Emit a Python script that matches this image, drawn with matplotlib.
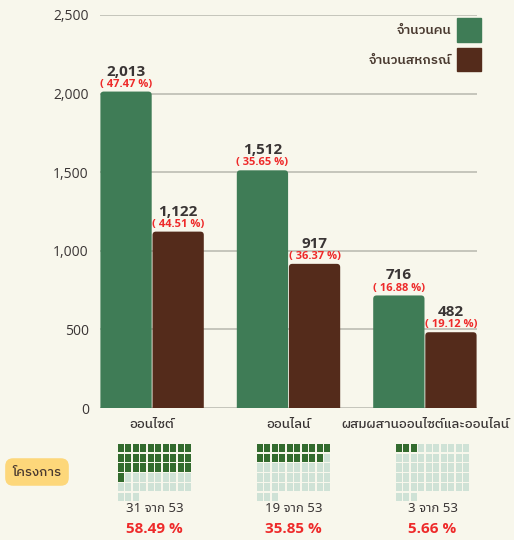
import matplotlib
matplotlib.use("Agg")
import matplotlib.pyplot as plt
from matplotlib import font_manager
from matplotlib.patches import FancyBboxPatch, Patch
import numpy as np

plt.rcParams['font.family'] = ['Noto Sans Thai', 'Noto Sans', 'DejaVu Sans']

# numbers need a real bold face; take the first humanist sans that has one
bold_fams = {f.name for f in font_manager.fontManager.ttflist
             if isinstance(f.weight, int) and f.weight >= 600}
num_font = [f for f in ['Open Sans', 'Noto Sans', 'Lato', 'Roboto'] if f in bold_fams][:1] + ['DejaVu Sans']
thai_bold = ['IBM Plex Sans Thai', 'Noto Sans Thai', 'Noto Sans']

# data
categories = ["ออนไซต์", "ออนไลน์", "ผสมผสานออนไซต์และออนไลน์"]
people = [2013, 1512, 716]
people_pct = ["( 47.47 %)", "( 35.65 %)", "( 16.88 %)"]
coops = [1122, 917, 482]
coops_pct = ["( 44.51 %)", "( 36.37 %)", "( 19.12 %)"]
series_names = ["จำนวนคน", "จำนวนสหกรณ์"]

projects = [31, 19, 3]
projects_total = 53
projects_pct = ["58.49 %", "35.85 %", "5.66 %"]
projects_label = "โครงการ"

bg = "#F8F7EC"
green = "#3F7C56"
brown = "#542B1B"
red = "#EE2A2A"
dark = "#3A3535"
waffle_on = "#336B2E"
waffle_off = "#CFE2D6"

fig = plt.figure(figsize=(5.14, 5.4), dpi=100, facecolor=bg)
ax = fig.add_axes([100/514, 1-408/540, 377/514, 393/540], facecolor=bg)

x = np.arange(len(categories))
w = 0.382
b1 = ax.bar(x - w/2, people, w, color=green, zorder=3)
b2 = ax.bar(x + w/2, coops, w, color=brown, zorder=3)

ymax = 2500
# one x unit is 377/(2+2w) px, one y unit is 393/ymax px
aspect = (377 / (2 + 2*w)) / (393 / ymax)
rs = 0.025

for bars, vals, pcts, col in [(b1, people, people_pct, green), (b2, coops, coops_pct, brown)]:
    for r, v, p in zip(bars, vals, pcts):
        # swap the square bar for one with rounded top corners
        bx, bw = r.get_x(), r.get_width()
        r.remove()
        ax.add_patch(FancyBboxPatch((bx + 0.003, -40), bw - 0.006, v + 40,
                                    boxstyle=f"round,pad=0,rounding_size={rs}",
                                    mutation_aspect=aspect, fc=col, ec="none",
                                    zorder=3))
        cx = bx + bw/2
        ax.annotate(f"{v:,}", (cx, v), xytext=(0, 11.5), textcoords="offset points",
                    ha="center", va="baseline", color=dark, family=num_font,
                    fontsize=11, fontweight="bold", zorder=4)
        ax.annotate(p, (cx, v), xytext=(0, 3.5), textcoords="offset points",
                    ha="center", va="baseline", color=red, family=num_font,
                    fontsize=8, fontweight="bold", zorder=4)

ax.set_xlim(-w, 2 + w)
ax.set_ylim(0, ymax)
yt = [0, 500, 1000, 1500, 2000, 2500]
ax.set_yticks(yt)
ax.set_yticklabels([f"{t:,}" for t in yt], color=dark, fontsize=10, family=num_font)
ax.set_xticks(x)
ax.set_xticklabels(categories, color=dark, fontsize=9.5, fontweight="medium",
                   family=thai_bold)
ax.tick_params(axis="y", length=0, pad=8)
ax.tick_params(axis="x", length=0, pad=7)
ax.grid(axis="y", color="#B8B8AE", linewidth=1.1, zorder=0)
for s in ax.spines.values():
    s.set_visible(False)

handles = [Patch(color=green, label=series_names[0]),
           Patch(color=brown, label=series_names[1])]
ax.legend(handles=handles, loc="upper right", bbox_to_anchor=(1.024, 1.006),
          borderaxespad=0, frameon=False, markerfirst=False,
          handlelength=1.8, handleheight=2.4, labelspacing=0.45, handletextpad=0.4,
          prop={"family": thai_bold, "weight": "semibold", "size": 9.5},
          labelcolor="#4A3A30")

# waffles
lefts = [117, 256, 395]
for i, n in enumerate(projects):
    wax = fig.add_axes([lefts[i]/514, 1-502/540, 75/514, 59/540])
    wax.set_axis_off()
    wax.set_xlim(0, 10)
    wax.set_ylim(6, 0)
    idx = np.arange(projects_total)
    cols = idx % 10
    rows = idx // 10
    colors = [waffle_on if k < n else waffle_off for k in idx]
    wax.bar(cols + 0.5, 0.84, 0.82, bottom=rows + 0.08, color=colors)
    cx = (lefts[i] + 37.5) / 514
    fig.text(cx, 1-509/540, f"{n} จาก {projects_total}", ha="center", va="center",
             color=dark, fontsize=9.5)
    fig.text(cx, 1-529/540, projects_pct[i], ha="center", va="center",
             color=red, fontsize=11, fontweight="bold", family=num_font)

fig.text(37/514, 1-472/540, projects_label, ha="center", va="center",
         color="#4A3A30", fontsize=9.5, family=thai_bold, fontweight="medium",
         bbox=dict(boxstyle="round,pad=0.55,rounding_size=0.6",
                   fc="#FDD77A", ec="none"))

fig.savefig("out.png", dpi=100, facecolor=bg)
